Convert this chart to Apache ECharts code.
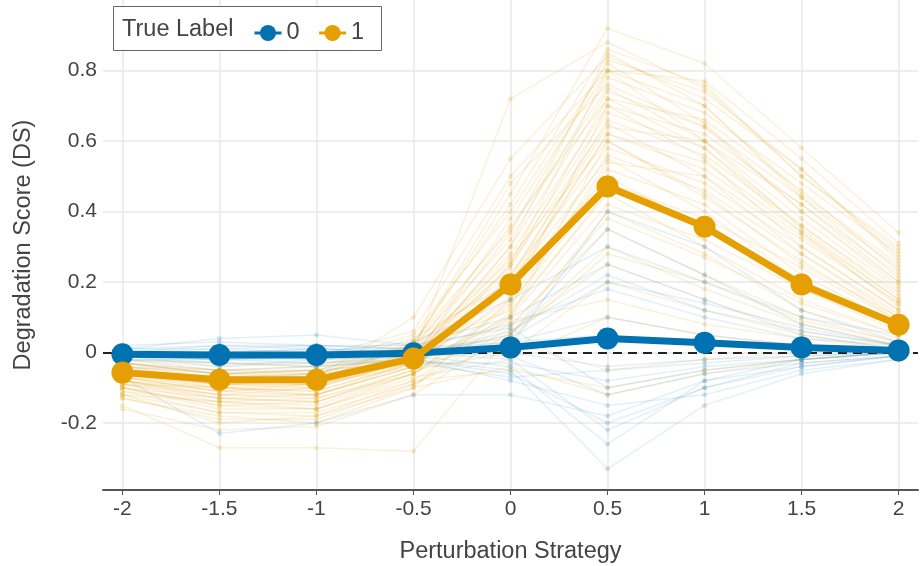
<!DOCTYPE html>
<html>
<head>
<meta charset="utf-8">
<script src="https://cdn.jsdelivr.net/npm/echarts@6/dist/echarts.min.js"></script>
<style>
  html, body { margin: 0; padding: 0; background: #fff; }
  #chart { width: 921px; height: 566px; }
</style>
</head>
<body>
<div id="chart"></div>
<script>
// perturbation strategies (x positions) and tick labels
var strategies = [-2, -1.5, -1, -0.5, 0, 0.5, 1, 1.5, 2];
var yTicks = [-0.2, 0, 0.2, 0.4, 0.6, 0.8];

// mean degradation score per true label
var mean0 = [-0.005, -0.007, -0.007, -0.002, 0.014, 0.040, 0.028, 0.014, 0.006];
var mean1 = [-0.057, -0.077, -0.077, -0.017, 0.193, 0.471, 0.357, 0.193, 0.079];

// individual samples (faint lines), label 1
var samples1 = [
    [-0.05, -0.08, -0.08, -0.02, 0.30, 0.85, 0.70, 0.45, 0.25],
    [-0.10, -0.15, -0.14, -0.05, 0.25, 0.80, 0.60, 0.35, 0.15],
    [-0.02, -0.03, -0.04, 0.02, 0.45, 0.92, 0.82, 0.58, 0.34],
    [-0.08, -0.12, -0.10, 0.00, 0.72, 0.88, 0.75, 0.50, 0.30],
    [-0.06, -0.09, -0.09, -0.03, 0.15, 0.70, 0.55, 0.30, 0.12],
    [-0.12, -0.20, -0.18, -0.08, 0.10, 0.60, 0.45, 0.25, 0.10],
    [-0.04, -0.05, -0.06, 0.00, 0.20, 0.55, 0.40, 0.20, 0.08],
    [-0.09, -0.10, -0.12, -0.04, 0.18, 0.50, 0.35, 0.18, 0.06],
    [-0.03, -0.06, -0.05, 0.01, 0.12, 0.45, 0.30, 0.15, 0.05],
    [-0.15, -0.27, -0.27, -0.28, 0.05, 0.40, 0.28, 0.12, 0.04],
    [-0.07, -0.11, -0.10, -0.02, 0.25, 0.65, 0.50, 0.28, 0.10],
    [-0.05, -0.07, -0.08, 0.03, 0.35, 0.75, 0.60, 0.38, 0.18],
    [-0.11, -0.14, -0.15, -0.06, 0.08, 0.35, 0.22, 0.10, 0.03],
    [-0.02, -0.04, -0.03, 0.05, 0.40, 0.82, 0.65, 0.40, 0.20],
    [-0.08, -0.13, -0.12, -0.04, 0.22, 0.58, 0.48, 0.30, 0.12],
    [-0.06, -0.08, -0.09, -0.01, 0.05, 0.30, 0.18, 0.08, 0.02],
    [-0.13, -0.18, -0.20, -0.10, 0.15, 0.52, 0.42, 0.22, 0.08],
    [-0.04, -0.06, -0.07, 0.00, 0.28, 0.70, 0.62, 0.42, 0.22],
    [-0.09, -0.12, -0.13, -0.05, 0.00, 0.20, 0.12, 0.05, 0.01],
    [-0.05, -0.09, -0.08, 0.02, 0.32, 0.78, 0.68, 0.48, 0.28],
    [-0.10, -0.16, -0.16, -0.07, -0.02, 0.10, 0.05, 0.02, 0.00],
    [-0.03, -0.05, -0.04, 0.04, 0.20, 0.62, 0.52, 0.33, 0.14],
    [-0.07, -0.10, -0.11, -0.03, 0.10, 0.42, 0.32, 0.18, 0.07],
    [-0.06, -0.08, -0.07, 0.10, 0.55, 0.84, 0.72, 0.52, 0.26],
    [-0.12, -0.14, -0.16, -0.08, -0.05, -0.10, -0.05, -0.02, 0.00],
    [-0.08, -0.11, -0.09, -0.04, 0.03, -0.05, -0.02, 0.00, 0.01],
    [-0.16, -0.22, -0.21, -0.12, 0.06, 0.25, 0.15, 0.06, 0.02],
    [-0.01, -0.02, -0.01, 0.06, 0.50, 0.80, 0.77, 0.55, 0.31],
    [-0.07, -0.09, -0.10, -0.02, 0.38, 0.80, 0.70, 0.44, 0.24],
    [-0.04, -0.07, -0.06, 0.01, 0.26, 0.68, 0.58, 0.36, 0.17],
    [-0.09, -0.14, -0.13, -0.06, 0.14, 0.48, 0.38, 0.24, 0.09],
    [-0.06, -0.10, -0.09, -0.02, 0.30, 0.74, 0.64, 0.44, 0.21],
    [-0.11, -0.17, -0.17, -0.09, 0.07, 0.38, 0.27, 0.14, 0.05],
    [-0.03, -0.05, -0.05, 0.03, 0.42, 0.86, 0.76, 0.50, 0.29],
    [-0.08, -0.12, -0.12, -0.03, 0.19, 0.62, 0.54, 0.34, 0.15],
    [-0.05, -0.08, -0.08, 0.00, 0.24, 0.72, 0.66, 0.46, 0.23],
    [-0.10, -0.15, -0.16, -0.06, 0.11, 0.46, 0.36, 0.20, 0.08],
    [-0.06, -0.09, -0.09, -0.01, 0.34, 0.83, 0.74, 0.52, 0.27],
    [-0.13, -0.19, -0.19, -0.09, 0.04, 0.28, 0.20, 0.09, 0.03],
    [-0.04, -0.06, -0.06, 0.02, 0.48, 0.76, 0.64, 0.40, 0.19],
    [-0.07, -0.11, -0.12, -0.04, 0.16, 0.56, 0.46, 0.28, 0.11],
    [-0.09, -0.13, -0.14, -0.05, 0.21, 0.66, 0.56, 0.36, 0.16],
    [-0.05, -0.07, -0.06, 0.01, 0.36, 0.72, 0.58, 0.34, 0.13],
    [-0.08, -0.10, -0.11, -0.03, 0.09, 0.15, 0.08, 0.04, 0.01],
    [-0.12, -0.17, -0.18, -0.10, -0.04, -0.12, -0.06, -0.02, 0.00],
    [-0.06, -0.09, -0.08, -0.02, 0.27, 0.60, 0.44, 0.26, 0.09],
    [-0.10, -0.13, -0.14, -0.06, 0.13, 0.54, 0.50, 0.32, 0.14],
    [-0.03, -0.06, -0.05, 0.02, 0.22, 0.64, 0.60, 0.42, 0.20]
];

// individual samples (faint lines), label 0
var samples0 = [
    [0.00, 0.00, 0.01, 0.00, 0.02, 0.40, 0.30, 0.12, 0.03],
    [-0.01, -0.02, -0.02, -0.01, 0.05, 0.35, 0.22, 0.08, 0.02],
    [0.01, 0.04, 0.05, 0.02, 0.10, 0.25, 0.15, 0.05, 0.01],
    [-0.02, -0.05, -0.04, -0.02, -0.05, -0.33, -0.15, -0.06, -0.02],
    [0.00, -0.01, 0.00, 0.00, -0.02, -0.22, -0.10, -0.03, -0.01],
    [-0.07, -0.23, -0.20, -0.12, -0.12, -0.18, -0.08, -0.04, -0.01],
    [0.01, 0.02, 0.02, 0.01, 0.08, 0.18, 0.10, 0.04, 0.02],
    [-0.01, -0.03, -0.03, -0.02, -0.08, -0.15, -0.12, -0.05, -0.02],
    [0.00, 0.01, 0.00, 0.03, 0.15, 0.30, 0.20, 0.10, 0.05],
    [-0.02, -0.02, -0.03, -0.01, -0.04, -0.26, -0.08, -0.02, 0.00],
    [0.02, 0.03, 0.02, 0.01, 0.03, 0.10, 0.05, 0.02, 0.01],
    [-0.03, -0.06, -0.05, -0.03, -0.03, -0.08, -0.04, -0.02, 0.00],
    [0.00, 0.00, -0.01, 0.00, 0.00, -0.04, -0.02, -0.01, 0.00],
    [-0.01, -0.04, -0.02, -0.01, 0.06, 0.22, 0.12, 0.06, 0.02],
    [0.00, 0.02, 0.01, 0.01, 0.04, 0.20, 0.14, 0.07, 0.02],
    [-0.02, -0.03, -0.04, -0.02, -0.06, -0.20, -0.10, -0.04, -0.01],
    [0.01, 0.01, 0.02, 0.02, 0.07, -0.10, -0.05, -0.02, 0.00],
    [-0.01, -0.02, -0.01, 0.00, -0.01, -0.12, -0.06, -0.03, -0.01],
    [0.00, 0.00, 0.01, 0.00, 0.03, 0.05, 0.02, 0.01, 0.00],
    [-0.04, -0.08, -0.06, -0.03, -0.07, -0.05, -0.03, -0.01, 0.00]
];

var blue = '#0072B2';
var orange = '#E69F00';
var textColor = '#444';
var fontFamily = 'Liberation Sans, Arial, sans-serif';

function pairs(vals) {
    return strategies.map(function (x, i) { return [x, vals[i]]; });
}

function fmt(v) {
    return String(v);
}

var series = [];

// faint per-sample lines
samples1.forEach(function (s) {
    series.push({
        type: 'line', name: 'sample1', data: pairs(s), silent: true,
        symbol: 'circle', symbolSize: 5, z: 1,
        lineStyle: { color: orange, width: 1.5, opacity: 0.14 },
        itemStyle: { color: orange, opacity: 0.18 }
    });
});
samples0.forEach(function (s) {
    series.push({
        type: 'line', name: 'sample0', data: pairs(s), silent: true,
        symbol: 'circle', symbolSize: 5, z: 1,
        lineStyle: { color: blue, width: 1.5, opacity: 0.11 },
        itemStyle: { color: blue, opacity: 0.16 }
    });
});

// dashed zero reference
series.push({
    type: 'line', name: 'zero', data: [], z: 3, silent: true,
    markLine: {
        symbol: 'none', silent: true, label: { show: false },
        lineStyle: { color: '#222', type: [9, 6], width: 2 },
        data: [{ yAxis: 0 }]
    }
});

// mean lines
series.push({
    type: 'line', name: '0', data: pairs(mean0), z: 5,
    symbol: 'circle', symbolSize: 22,
    lineStyle: { color: blue, width: 7 },
    itemStyle: { color: blue }
});
series.push({
    type: 'line', name: '1', data: pairs(mean1), z: 6,
    symbol: 'circle', symbolSize: 22,
    lineStyle: { color: orange, width: 7 },
    itemStyle: { color: orange }
});

var chart = echarts.init(document.getElementById('chart'));

var option = {
    animation: false,
    textStyle: { fontFamily: fontFamily },
    grid: { left: 103, right: 3, top: 0, bottom: 76, containLabel: false, outerBoundsMode: 'none' },
    graphic: [
        {
            type: 'rect', z: 50,
            shape: { x: 113.5, y: 6.5, width: 268, height: 44 },
            style: { fill: '#fff', stroke: '#666', lineWidth: 1 }
        },
        {
            type: 'text', z: 51, x: 122, y: 30,
            style: {
                text: 'True Label', fontSize: 23.5, fill: textColor,
                verticalAlign: 'middle', fontFamily: fontFamily
            }
        }
    ],
    legend: {
        data: ['0', '1'],
        left: 248, top: 16, z: 60,
        itemWidth: 27, itemHeight: 20, itemGap: 18,
        lineStyle: { width: 3 },
        textStyle: { fontSize: 23.5, color: textColor }
    },
    xAxis: {
        type: 'value', min: -2.1, max: 2.1,
        name: 'Perturbation Strategy', nameLocation: 'middle', nameGap: 50,
        nameTextStyle: { fontSize: 23.5, color: textColor },
        axisLine: { show: true, onZero: false, lineStyle: { color: '#555', width: 2 } },
        axisTick: { show: true, length: 5, customValues: strategies, lineStyle: { color: '#555' } },
        axisLabel: { customValues: strategies, formatter: fmt, fontSize: 21, color: textColor, margin: 9 },
        splitLine: { show: true, lineStyle: { color: '#e8e8e8', width: 1.5 } }
    },
    yAxis: {
        type: 'value', min: -0.39, max: 1.0,
        name: 'Degradation Score (DS)', nameLocation: 'middle', nameGap: 67,
        nameTextStyle: { fontSize: 23.5, color: textColor },
        axisLine: { show: false },
        axisTick: { show: false, customValues: yTicks },
        axisLabel: { customValues: yTicks, formatter: fmt, fontSize: 21, color: textColor, margin: 6 },
        splitLine: { show: true, lineStyle: { color: '#e8e8e8', width: 1.5 } }
    },
    series: series
};

chart.setOption(option);
</script>
</body>
</html>
